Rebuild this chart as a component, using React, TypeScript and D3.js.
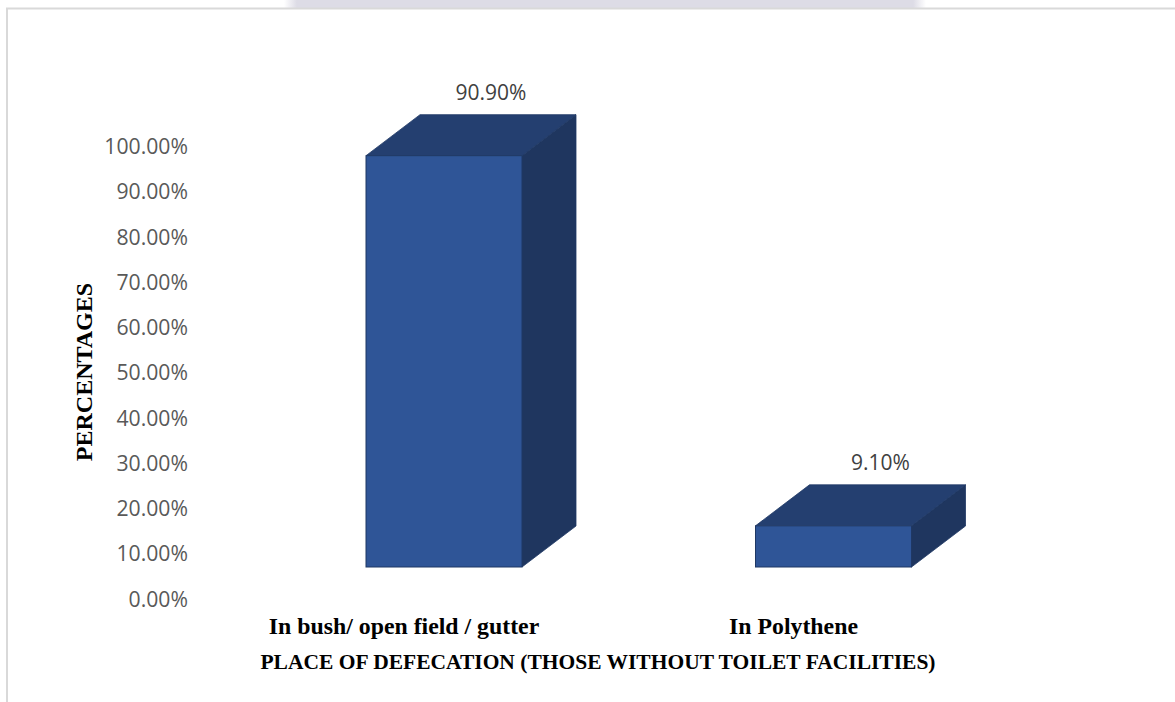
import React from "react";
import * as d3 from "d3";

// Share of respondents without toilet facilities, by place of defecation
const categories = ["In bush/ open field / gutter", "In Polythene"];
const shares = [0.909, 0.091];
const tickValues = [0, 0.1, 0.2, 0.3, 0.4, 0.5, 0.6, 0.7, 0.8, 0.9, 1.0];

const W = 1175;
const H = 702;

const yScale = d3.scaleLinear().domain([0, 1]).range([599, 146.5]);
const xScale = d3.scalePoint<string>().domain(categories).range([404, 793.5]);
const fmt = d3.format(".2%");

// oblique 3D projection: floor gap in front of the bars, and bar depth
const gap = { dx: 40, dy: -32 };
const depth = { dx: 54, dy: -41 };
const barW = 156;

const FRONT = "#2f5597";
const TOP = "#243f70";
const SIDE = "#1f365f";
const EDGE = "#1f3864";
const SERIF = "'Liberation Serif', 'Times New Roman', serif";

function Bar3D({ cat, v }: { cat: string; v: number }) {
  const cx = xScale(cat) as number;
  const x0 = cx - barW / 2 + gap.dx;
  const x1 = x0 + barW;
  const yb = yScale(0) + gap.dy;
  const yt = yScale(v) + gap.dy;
  const side = d3.path();
  const top = d3.path();
  top.moveTo(x0, yt);
  top.lineTo(x0 + depth.dx, yt + depth.dy);
  top.lineTo(x1 + depth.dx, yt + depth.dy);
  top.lineTo(x1, yt);
  top.closePath();
  side.moveTo(x1, yt);
  side.lineTo(x1 + depth.dx, yt + depth.dy);
  side.lineTo(x1 + depth.dx, yb + depth.dy);
  side.lineTo(x1, yb);
  side.closePath();
  return (
    <g>
      <path d={side.toString()} fill={SIDE} stroke={EDGE} strokeWidth={0.8} strokeLinejoin="round" />
      <path d={top.toString()} fill={TOP} stroke={EDGE} strokeWidth={0.8} strokeLinejoin="round" />
      <rect x={x0} y={yt} width={barW} height={yb - yt} fill={FRONT} stroke={EDGE} strokeWidth={1} />
      <text
        x={(x0 + x1) / 2 + depth.dx / 2 + 20}
        y={yt + depth.dy - 15}
        textAnchor="middle"
        fontFamily="'Open Sans', sans-serif"
        fontSize={21}
        fill="#404040"
      >
        {fmt(v)}
      </text>
    </g>
  );
}

export default function App() {
  return (
    <svg
      width={W}
      height={H}
      viewBox={`0 0 ${W} ${H}`}
      style={{ position: "absolute", left: 0, top: 0, background: "#fff" }}
    >
      <defs>
        <linearGradient id="band" x1="0" x2="1" y1="0" y2="0">
          <stop offset="0" stopColor="#dddce6" stopOpacity={0} />
          <stop offset="0.02" stopColor="#dddce6" stopOpacity={1} />
          <stop offset="0.98" stopColor="#dddce6" stopOpacity={1} />
          <stop offset="1" stopColor="#dddce6" stopOpacity={0} />
        </linearGradient>
      </defs>
      <rect x={284} y={0} width={642} height={8} fill="url(#band)" />
      <line x1={6} x2={W} y1={8.5} y2={8.5} stroke="#d9d9d9" strokeWidth={2} />
      <line x1={7} x2={7} y1={8} y2={H} stroke="#d9d9d9" strokeWidth={2} />

      {tickValues.map((t) => (
        <text
          key={t}
          x={188}
          y={yScale(t)}
          dy="0.36em"
          textAnchor="end"
          fontFamily="'Open Sans', sans-serif"
          fontSize={21.2}
          fill="#595959"
        >
          {fmt(t)}
        </text>
      ))}

      {categories.map((c, i) => (
        <Bar3D key={c} cat={c} v={shares[i]} />
      ))}

      {categories.map((c) => (
        <text
          key={c}
          x={xScale(c) as number}
          y={634}
          textAnchor="middle"
          fontFamily={SERIF}
          fontWeight="bold"
          fontSize={23.8}
          fill="#000"
        >
          {c}
        </text>
      ))}

      <text
        x={598}
        y={669}
        textAnchor="middle"
        fontFamily={SERIF}
        fontWeight="bold"
        fontSize={21.5}
        fill="#000"
      >
        PLACE OF DEFECATION (THOSE WITHOUT TOILET FACILITIES)
      </text>

      <text
        transform="translate(92,372) rotate(-90)"
        textAnchor="middle"
        fontFamily={SERIF}
        fontWeight="bold"
        fontSize={24}
        fill="#000"
      >
        PERCENTAGES
      </text>
    </svg>
  );
}
